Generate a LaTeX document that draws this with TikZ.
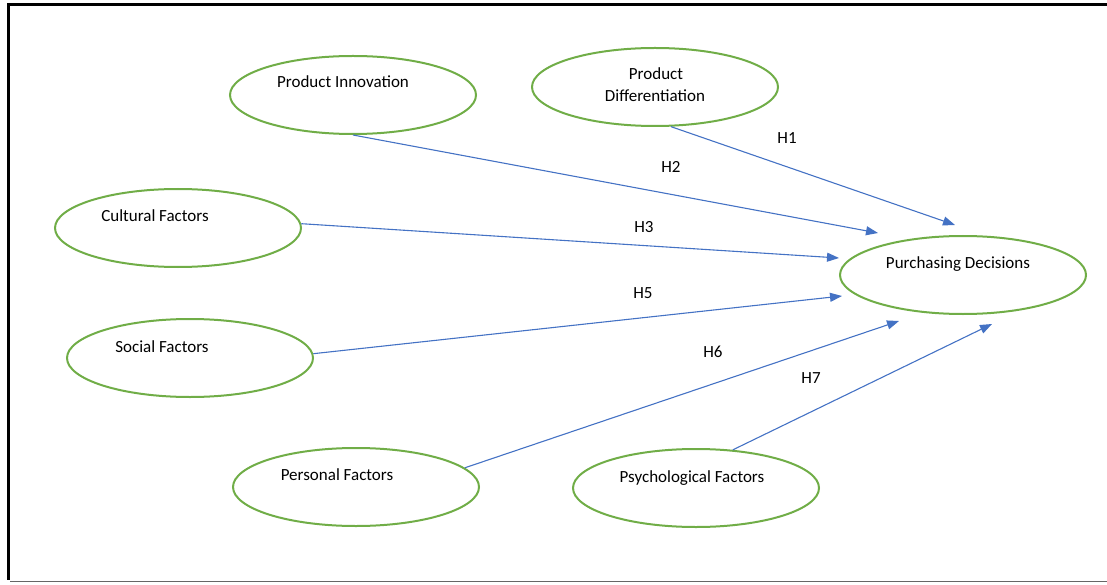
\documentclass[tikz,border=0pt]{standalone}
\usepackage{fontspec}
\setmainfont{Carlito}
\usetikzlibrary{shapes.geometric,arrows.meta}
\definecolor{ogreen}{HTML}{70AD47}
\definecolor{oblue}{HTML}{4472C4}
\begin{document}
\begin{tikzpicture}[x=1pt,y=-1pt,
  ell/.style={ellipse,draw=ogreen,line width=2pt,minimum width=246pt,minimum height=78pt,inner sep=0pt},
  txt/.style={font=\fontsize{17}{20}\selectfont,anchor=base,inner sep=0pt},
  arr/.style={draw=oblue,line width=1.1pt,-{Triangle[length=12pt,width=9pt]}},
  frame/.style={line width=3pt,black}]
\useasboundingbox (0,0) rectangle (1107,585);
% frame
\draw[frame] (7,4.5) -- (1107,4.5);
\draw[frame] (8.5,3) -- (8.5,580);
\draw[line width=1.6pt,black!60] (10,581.5) -- (1107,581.5);
% ellipses
\node[ell] (pi)  at (353,95) {};
\node[ell] (pd)  at (655,87) {};
\node[ell] (cf)  at (178,228) {};
\node[ell] (sf)  at (190,358) {};
\node[ell] (pf)  at (356,487) {};
\node[ell] (psy) at (696,488) {};
\node[ell] (dec) at (963,275) {};
% texts
\node[txt] (tpi)  at (343,88)  {Product Innovation};
\node[txt] (tpd1) at (656,80)  {Product};
\node[txt] (tpd2) at (655,102) {Differentiation};
\node[txt] (tcf)  at (155,222) {Cultural Factors};
\node[txt] (tsf)  at (162,352) {Social Factors};
\node[txt] (tpf)  at (337,480) {Personal Factors};
\node[txt] (tpsy) at (692,482) {Psychological Factors};
\node[txt] (tdec) at (958,268) {Purchasing Decisions};
% arrow tips
\coordinate (t1) at (955,225);
\coordinate (t2) at (878,233);
\coordinate (t3) at (839,258);
\coordinate (t5) at (842,296);
\coordinate (t6) at (899,321);
\coordinate (t7) at (992,324);
% arrows
\draw[arr] (pd.-68) -- (t1);
\draw[arr] (pi.south) -- (t2);
\draw[arr] (cf.2) -- (t3);
\draw[arr] (sf.2) -- (t5);
\draw[arr] (pf.10) -- (t6);
\draw[arr] (psy.46) -- (t7);
% labels
\node[txt] (h1) at (787,144) {H1};
\node[txt] (h2) at (671,173) {H2};
\node[txt] (h3) at (644,233) {H3};
\node[txt] (h5) at (643,298) {H5};
\node[txt] (h6) at (713,357) {H6};
\node[txt] (h7) at (811,383) {H7};
\end{tikzpicture}
\end{document}
